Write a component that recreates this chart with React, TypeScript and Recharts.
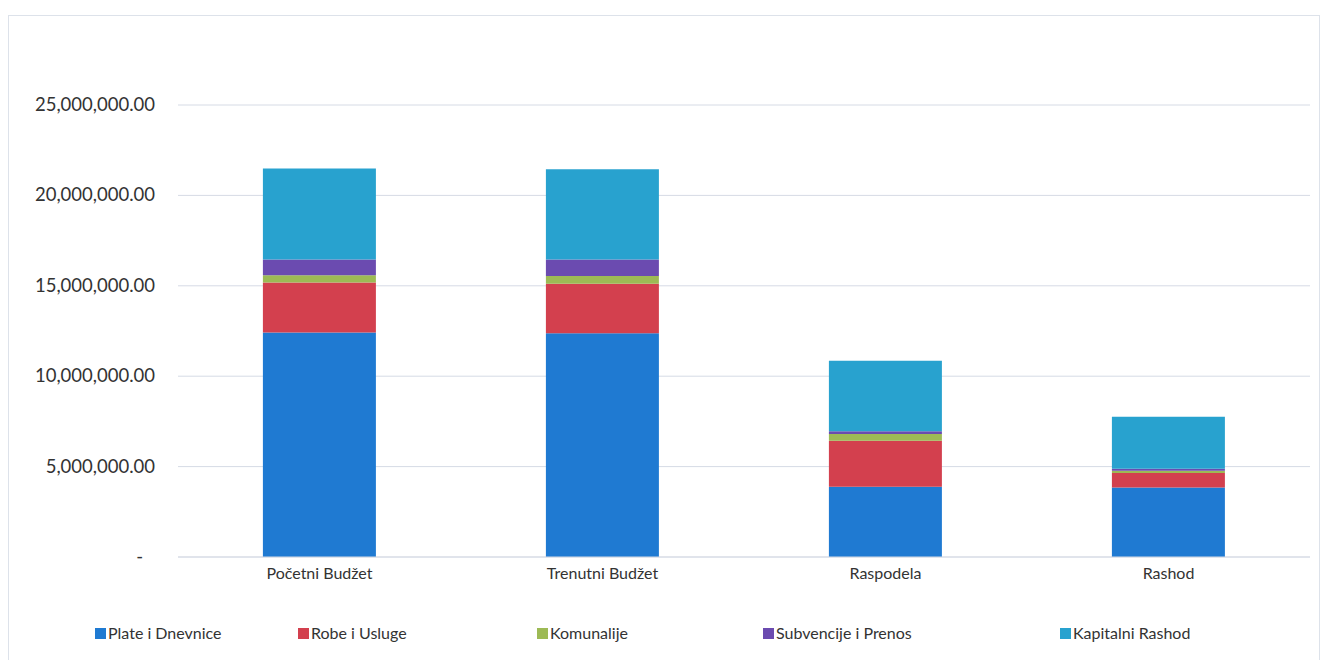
import React from "react";
import { BarChart, Bar, XAxis, YAxis, CartesianGrid, Legend } from "recharts";

const categories = ["Početni Budžet", "Trenutni Budžet", "Raspodela", "Rashod"];
const plateIDnevnice = [12420000, 12380000, 3880000, 3840000];
const robeIUsluge = [2760000, 2740000, 2550000, 800000];
const komunalije = [400000, 420000, 370000, 130000];
const subvencijeIPrenos = [880000, 920000, 150000, 110000];
const kapitalniRashod = [5030000, 4990000, 3910000, 2880000];
const yTicks = [0, 5000000, 10000000, 15000000, 20000000, 25000000];

const seriesNames = ["Plate i Dnevnice", "Robe i Usluge", "Komunalije", "Subvencije i Prenos", "Kapitalni Rashod"];
const seriesValues = [plateIDnevnice, robeIUsluge, komunalije, subvencijeIPrenos, kapitalniRashod];
const seriesColors = ["#1F7AD2", "#D3404E", "#9DBA55", "#6B4BB0", "#28A2CF"];
const keys = ["s0", "s1", "s2", "s3", "s4"];

const data = categories.map((c, i) => {
  const row: any = { name: c };
  keys.forEach((k, j) => (row[k] = seriesValues[j][i]));
  return row;
});

const legendX = [86, 289, 528, 754, 1051];
const FONT = "Lato, 'Open Sans', sans-serif";

const fmt = (v: number) =>
  v.toLocaleString("en-US", { minimumFractionDigits: 2, maximumFractionDigits: 2 });

const YTick = (props: any) => {
  const { x, y, payload } = props;
  const v = payload.value;
  return (
    <text x={v === 0 ? x - 12 : x} y={y} dy={6} textAnchor="end" fill="#333" fontSize={18.5} fontFamily={FONT}>
      {v === 0 ? "-" : fmt(v)}
    </text>
  );
};

const LegendContent = () => (
  <div style={{ position: "relative", height: 20, width: 1310 }}>
    {seriesNames.map((n, i) => (
      <div
        key={n}
        style={{ position: "absolute", left: legendX[i], top: 0, display: "flex", alignItems: "center", fontSize: 16, color: "#333", fontFamily: FONT, lineHeight: "20px" }}
      >
        <span style={{ display: "inline-block", width: 11, height: 11, background: seriesColors[i], marginRight: 2 }} />
        {n}
      </div>
    ))}
  </div>
);

export default function App() {
  return (
    <div style={{ width: 1310, height: 645, marginTop: 7, border: "1px solid #dde2ea", background: "#fff" }}>
      <BarChart
        width={1310}
        height={645}
        data={data}
        margin={{ top: 89, right: 9, left: 9, bottom: 54 }}
        barCategoryGap="30%"
      >
        <CartesianGrid vertical={false} stroke="#d6dbe5" />
        <XAxis
          dataKey="name"
          tickLine={false}
          axisLine={{ stroke: "#d6dbe5" }}
          tick={{ fill: "#333", fontSize: 16, fontFamily: FONT }}
          tickMargin={5}
          height={30}
        />
        <YAxis
          width={160}
          domain={[0, 25000000]}
          ticks={yTicks}
          axisLine={false}
          tickLine={false}
          tickSize={0}
          tickMargin={23}
          tick={<YTick />}
        />
        <Legend
          verticalAlign="bottom"
          content={<LegendContent />}
          wrapperStyle={{ left: 0, bottom: 18, width: 1310 }}
        />
        {keys.map((k, j) => (
          <Bar key={k} dataKey={k} name={seriesNames[j]} stackId="a" fill={seriesColors[j]} isAnimationActive={false} />
        ))}
      </BarChart>
    </div>
  );
}
